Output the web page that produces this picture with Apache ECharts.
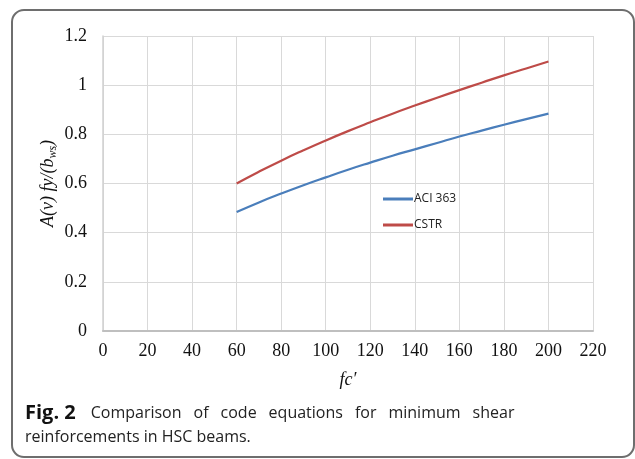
<!DOCTYPE html>
<html>
<head>
<meta charset="utf-8">
<script src="https://cdn.jsdelivr.net/npm/echarts@6/dist/echarts.min.js"></script>
<style>html,body{margin:0;padding:0;background:#fff;}#c{width:635px;height:459px;}</style>
</head>
<body>
<div id="c"></div>
<script>
var fcValues = [60, 70, 80, 90, 100, 110, 120, 130, 140, 150, 160, 170, 180, 190, 200];
var aci363 = [0.484, 0.523, 0.559, 0.593, 0.625, 0.656, 0.685, 0.713, 0.739, 0.765, 0.791, 0.815, 0.839, 0.862, 0.884];
var cstr = [0.600, 0.648, 0.693, 0.735, 0.775, 0.813, 0.849, 0.884, 0.917, 0.949, 0.980, 1.010, 1.040, 1.068, 1.096];
var seriesNames = ['ACI 363', 'CSTR'];
var captionBold = 'Fig. 2';
var captionLine1 = 'Comparison of code equations for minimum shear';
var captionLine2 = 'reinforcements in HSC beams.';

function pairs(xs, ys) { return xs.map(function (x, i) { return [x, ys[i]]; }); }

var chart = echarts.init(document.getElementById('c'), null, { renderer: 'canvas' });
var serif = '"Liberation Serif", "DejaVu Serif", serif';
var sans = '"Open Sans", "Liberation Sans", sans-serif';

// justified first caption line: words as tokens with spacing
var words = captionLine1.split(' ');
var line1 = '{b|' + captionBold + '}' + words.map(function (w, i) {
  return (i === words.length - 1 ? '{n|' : '{j|') + w + '}';
}).join('');

chart.setOption({
  animation: false,
  backgroundColor: '#ffffff',
  grid: { left: 103, right: 42, top: 36, bottom: 128, containLabel: false },
  xAxis: {
    type: 'value', min: 0, max: 220, interval: 20,
    name: 'fc′', nameLocation: 'middle', nameGap: 40, nameMoveOverlap: false,
    nameTextStyle: { fontFamily: serif, fontStyle: 'italic', fontSize: 18, color: '#111' },
    axisLine: { show: true, lineStyle: { color: '#bfbfbf', width: 2 } },
    axisTick: { show: false },
    axisLabel: { fontFamily: serif, fontSize: 18, color: '#111', margin: 11 },
    splitLine: { show: true, lineStyle: { color: '#d9d9d9', width: 1 } }
  },
  yAxis: {
    type: 'value', min: 0, max: 1.2, interval: 0.2,
    name: '{i|A(v) fy/(b}{s|ws}{i|)}', nameLocation: 'middle', nameGap: 44, nameRotate: 90,
    nameMoveOverlap: false,
    nameTextStyle: {
      rich: {
        i: { fontFamily: serif, fontStyle: 'italic', fontSize: 18, color: '#111', lineHeight: 22 },
        s: { fontFamily: serif, fontStyle: 'italic', fontSize: 12, color: '#111', lineHeight: 22, verticalAlign: 'bottom', padding: [6, 0, 0, 0] }
      }
    },
    axisLine: { show: true, lineStyle: { color: '#d0d0d0', width: 1.5 } },
    axisTick: { show: false },
    axisLabel: { fontFamily: serif, fontSize: 18, color: '#111', margin: 16,
      formatter: function (v) { return String(Math.round(v * 10) / 10); } },
    splitLine: { show: true, lineStyle: { color: '#d9d9d9', width: 1 } }
  },
  legend: {
    orient: 'vertical', left: 378, top: 188,
    data: seriesNames.map(function (n) { return { name: n, icon: 'rect' }; }),
    itemWidth: 30, itemHeight: 3, itemGap: 14,
    textStyle: { fontFamily: sans, fontSize: 12, color: '#222', padding: [0, 0, 0, -4] }
  },
  series: [
    { name: seriesNames[0], type: 'line', data: pairs(fcValues, aci363), smooth: true, showSymbol: false,
      lineStyle: { color: '#4a7ebb', width: 2.2 }, itemStyle: { color: '#4a7ebb' } },
    { name: seriesNames[1], type: 'line', data: pairs(fcValues, cstr), smooth: true, showSymbol: false,
      lineStyle: { color: '#be4b48', width: 2.2 }, itemStyle: { color: '#be4b48' } }
  ],
  graphic: [
    { type: 'rect', shape: { x: 12, y: 10, width: 622, height: 447, r: 12 }, silent: true,
      style: { fill: null, stroke: '#6e6e6e', lineWidth: 2 } },
    { type: 'text', left: 25, top: 403, silent: true,
      style: {
        text: line1 + '\n{n|' + captionLine2 + '}',
        rich: {
          b: { fontFamily: sans, fontWeight: 'bold', fontSize: 20, fill: '#111', lineHeight: 24, padding: [0, 15, 0, 0] },
          j: { fontFamily: sans, fontSize: 16, fill: '#222', lineHeight: 24, padding: [0, 12, 0, 0] },
          n: { fontFamily: sans, fontSize: 16, fill: '#222', lineHeight: 24 }
        }
      } }
  ]
});
</script>
</body>
</html>
